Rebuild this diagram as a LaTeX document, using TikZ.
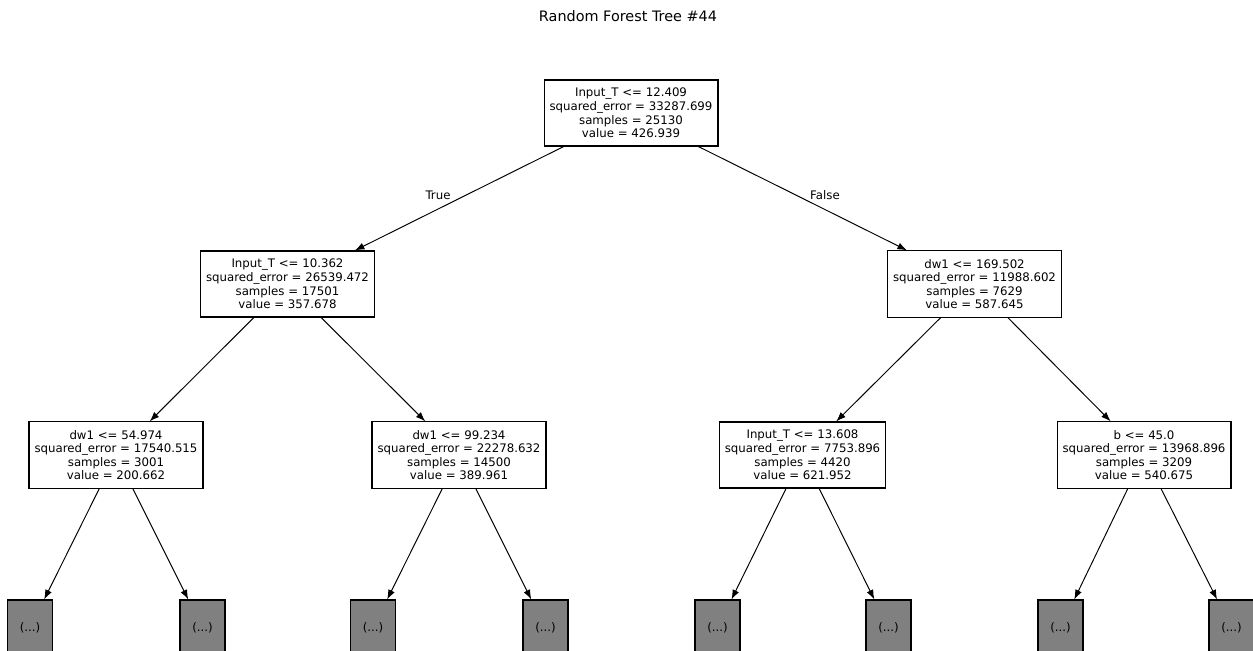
\documentclass[tikz,border=0pt]{standalone}
\usepackage{fontspec}
\setmainfont{DejaVu Sans}
\usetikzlibrary{arrows.meta}
\definecolor{leafgray}{RGB}{128,128,128}
\tikzset{
  split/.style={draw, line width=0.6pt, fill=white, align=center, inner xsep=0.11cm, inner ysep=0.165cm, font=\fontsize{6.7}{7.7}\selectfont},
  cut/.style={draw, line width=0.6pt, fill=leafgray, minimum width=0.9cm, minimum height=1.12cm, font=\fontsize{6.7}{7.7}\selectfont},
  edge/.style={-{Latex[length=5.5pt,width=4pt]}, line width=0.55pt},
  tag/.style={font=\fontsize{6.7}{7.7}\selectfont},
}
\begin{document}
\begin{tikzpicture}[x=0.02cm, y=-0.02cm]
	\clip (0,0) rectangle (1253,651);
	\node[font=\fontsize{8.2}{9.8}\selectfont] (title) at (628,16) {Random Forest Tree \#44};
	% split nodes
	\node[split] (root) at (631,113) {Input\_T <= 12.409\\squared\_error = 33287.699\\samples = 25130\\value = 426.939};
	\node[split] (t) at (287.5,284) {Input\_T <= 10.362\\squared\_error = 26539.472\\samples = 17501\\value = 357.678};
	\node[split] (f) at (974.5,284) {dw1 <= 169.502\\squared\_error = 11988.602\\samples = 7629\\value = 587.645};
	\node[split] (tt) at (116,455) {dw1 <= 54.974\\squared\_error = 17540.515\\samples = 3001\\value = 200.662};
	\node[split] (tf) at (459,455) {dw1 <= 99.234\\squared\_error = 22278.632\\samples = 14500\\value = 389.961};
	\node[split] (ft) at (802.5,455) {Input\_T <= 13.608\\squared\_error = 7753.896\\samples = 4420\\value = 621.952};
	\node[split] (ff) at (1144,455) {b <= 45.0\\squared\_error = 13968.896\\samples = 3209\\value = 540.675};
	% truncated nodes
	\node[cut] (l1) at (30,628) {(...)};
	\node[cut] (l2) at (202.5,628) {(...)};
	\node[cut] (l3) at (373,628) {(...)};
	\node[cut] (l4) at (545.5,628) {(...)};
	\node[cut] (l5) at (717.5,628) {(...)};
	\node[cut] (l6) at (888.5,628) {(...)};
	\node[cut] (l7) at (1060.5,628) {(...)};
	\node[cut] (l8) at (1231.5,628) {(...)};
	\draw[edge] (root) -- (t);
	\draw[edge] (root) -- (f);
	\draw[edge] (t) -- (tt);
	\draw[edge] (t) -- (tf);
	\draw[edge] (f) -- (ft);
	\draw[edge] (f) -- (ff);
	\draw[edge] (tt) -- (l1);
	\draw[edge] (tt) -- (l2);
	\draw[edge] (tf) -- (l3);
	\draw[edge] (tf) -- (l4);
	\draw[edge] (ft) -- (l5);
	\draw[edge] (ft) -- (l6);
	\draw[edge] (ff) -- (l7);
	\draw[edge] (ff) -- (l8);
	\node[tag] (yes) at (438,195) {True};
	\node[tag] (no) at (825,195) {False};
\end{tikzpicture}
\end{document}
